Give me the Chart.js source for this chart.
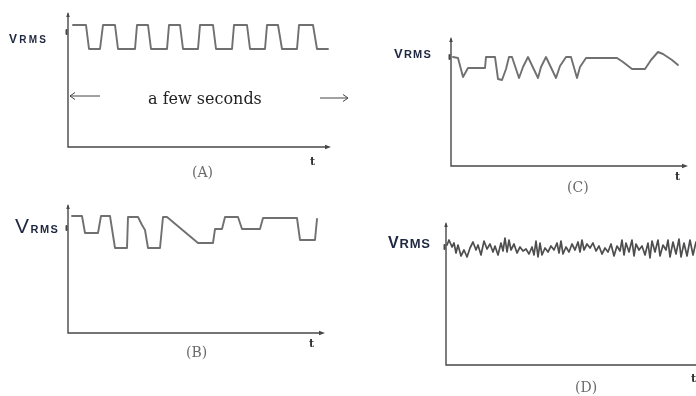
<!DOCTYPE html>
<html>
<head>
<meta charset="utf-8">
<script src="https://cdn.jsdelivr.net/npm/chart.js@4/dist/chart.umd.min.js"></script>
<style>
  html, body { margin: 0; padding: 0; background: #fff; }
  body { width: 696px; height: 396px; position: relative; overflow: hidden; }
  canvas { position: absolute; left: 0; top: 0; }
  .txt { position: absolute; white-space: nowrap; line-height: 1; }
  .vrms { font-family: "Liberation Sans", Arial, sans-serif; font-weight: bold; color: #1e2740; }
  .serif { font-family: "DejaVu Serif", "Liberation Serif", serif; }
  .cap { color: #6a6a6a; font-size: 14px; }
  .t { color: #333; font-size: 11px; font-weight: bold; }
</style>
</head>
<body>
<canvas id="pA" width="696" height="396"></canvas>
<canvas id="pB" width="696" height="396"></canvas>
<canvas id="pC" width="696" height="396"></canvas>
<canvas id="pD" width="696" height="396"></canvas>

<!-- panel labels -->
<div class="txt vrms" style="left:9px;top:30px;letter-spacing:2.2px"><span style="font-size:12px">V</span><span style="font-size:10px">RMS</span></div>
<div class="txt serif" style="left:148px;top:91px;font-size:16px;color:#222">a few seconds</div>
<div class="txt serif cap" style="left:192px;top:165px">(A)</div>
<div class="txt serif t" style="left:310px;top:156px">t</div>

<div class="txt vrms" style="left:15px;top:215px;letter-spacing:1.5px"><span style="font-size:21px;font-weight:normal">V</span><span style="font-size:11px">RMS</span></div>
<div class="txt serif cap" style="left:186px;top:345px">(B)</div>
<div class="txt serif t" style="left:309px;top:338px">t</div>

<div class="txt vrms" style="left:394px;top:45px;letter-spacing:1.2px"><span style="font-size:13px">V</span><span style="font-size:11px">RMS</span></div>
<div class="txt serif cap" style="left:567px;top:180px">(C)</div>
<div class="txt serif t" style="left:675px;top:171px">t</div>

<div class="txt vrms" style="left:388px;top:235px;letter-spacing:0.8px"><span style="font-size:16px">V</span><span style="font-size:13px">RMS</span></div>
<div class="txt serif cap" style="left:575px;top:380px">(D)</div>
<div class="txt serif t" style="left:691px;top:373px">t</div>

<script>
// ---- Waveform samples: time offset along the t axis, RMS level above the axis ----
// (A) regular switching between two levels
const tA = [5, 18, 21, 32, 35, 47, 50, 67, 69, 80, 83, 99, 101, 112, 115, 130, 132, 145, 148, 164, 166, 179, 182, 197, 199, 210, 214, 229, 231, 245, 249, 260];
const vA = [122, 122, 98, 98, 122, 122, 98, 98, 122, 122, 98, 98, 122, 122, 98, 98, 122, 122, 98, 98, 122, 122, 98, 98, 122, 122, 98, 98, 122, 122, 98, 98];

// (B) irregular steps of varying depth
const tB = [4, 14, 17, 30, 33, 42, 47, 59, 60, 70, 74, 77, 80, 92, 95, 99, 130, 145, 147, 154, 157, 170, 174, 192, 195, 229, 232, 247, 249];
const vB = [117, 117, 100, 100, 117, 117, 85, 85, 116, 116, 108, 103, 85, 85, 116, 116, 90, 90, 104, 104, 116, 116, 104, 104, 115, 115, 93, 93, 114];

// (C) sag-and-recover ripples, then slow drift
const tC = [2, 7, 12, 17, 34, 35, 44, 47, 51, 55, 58, 61, 68, 72, 77, 87, 90, 95, 105, 109, 115, 120, 126, 129, 135, 166, 172, 181, 194, 200, 207, 212, 221, 227];
const vC = [109, 108, 89, 98, 98, 109, 109, 87, 86, 97, 109, 109, 88, 99, 109, 88, 99, 109, 88, 100, 109, 109, 88, 99, 108, 108, 104, 97, 97, 106, 114, 112, 106, 101];

// (D) continuous random-looking flicker
const tD = [1, 3, 6, 8, 10, 12, 15, 18, 21, 24, 27, 30, 32, 35, 38, 41, 44, 47, 49, 52, 55, 57, 59, 61, 63, 65, 68, 71, 74, 77, 80, 83, 86, 88, 90, 92, 94, 96, 99, 102, 105, 108, 111, 113, 115, 117, 120, 123, 126, 129, 132, 134, 136, 138, 141, 144, 147, 150, 153, 156, 159, 162, 165, 168, 171, 174, 176, 178, 180, 183, 186, 188, 190, 193, 196, 199, 202, 204, 206, 209, 212, 214, 217, 220, 222, 224, 227, 230, 233, 235, 238, 241, 244, 247, 250];
const vD = [120, 125, 118, 122, 112, 120, 109, 115, 108, 117, 123, 115, 120, 110, 124, 116, 121, 113, 119, 110, 122, 114, 127, 113, 125, 115, 121, 112, 118, 114, 116, 111, 118, 110, 124, 108, 122, 110, 117, 113, 119, 115, 122, 112, 124, 111, 118, 113, 121, 115, 123, 113, 125, 115, 121, 117, 122, 114, 119, 111, 117, 113, 121, 109, 119, 114, 125, 110, 122, 113, 125, 109, 121, 115, 119, 110, 122, 107, 124, 113, 125, 109, 120, 115, 125, 108, 123, 111, 126, 108, 122, 109, 125, 110, 123];

// ---- drawing ----
const W = 696, H = 396;

// hand-drawn style axes with arrow tips and a small reference tick on the level axis
const sketchAxes = {
  id: 'sketchAxes',
  afterDatasetsDraw(chart, args, opts) {
    const { ctx } = chart;
    const xs = chart.scales.x, ys = chart.scales.y;
    const x0 = xs.getPixelForValue(0), y0 = ys.getPixelForValue(0);
    const x1 = xs.getPixelForValue(xs.max) + (opts.xOver || 0);
    const y1 = ys.getPixelForValue(ys.max);
    ctx.save();
    ctx.strokeStyle = opts.color;
    ctx.fillStyle = opts.color;
    ctx.lineWidth = 1.4;
    ctx.lineCap = 'round';
    ctx.beginPath();
    ctx.moveTo(x0, y1 + 1);
    ctx.lineTo(x0, y0);
    ctx.lineTo(x1, y0);
    ctx.stroke();
    // arrow tips
    ctx.beginPath();
    ctx.moveTo(x1 + 3, y0);
    ctx.lineTo(x1 - 3, y0 - 2.2);
    ctx.lineTo(x1 - 3, y0 + 2.2);
    ctx.closePath();
    ctx.fill();
    ctx.beginPath();
    ctx.moveTo(x0, y1 - 1);
    ctx.lineTo(x0 - 1.8, y1 + 4);
    ctx.lineTo(x0 + 1.8, y1 + 4);
    ctx.closePath();
    ctx.fill();
    // level tick
    if (opts.tick != null) {
      const yt = ys.getPixelForValue(opts.tick);
      ctx.lineWidth = 2;
      ctx.beginPath();
      ctx.moveTo(x0 - 1.5, yt - 2);
      ctx.lineTo(x0 - 1.5, yt + 2);
      ctx.stroke();
    }
    ctx.restore();
  }
};

// "a few seconds" span arrows in (A)
const spanArrows = {
  id: 'spanArrows',
  afterDraw(chart, args, opts) {
    if (!opts.show) return;
    const { ctx } = chart;
    const xs = chart.scales.x, ys = chart.scales.y;
    ctx.save();
    ctx.strokeStyle = '#444';
    ctx.lineWidth = 1;
    const la = xs.getPixelForValue(opts.left[0]), lb = xs.getPixelForValue(opts.left[1]), ly = ys.getPixelForValue(opts.left[2]);
    const ra = xs.getPixelForValue(opts.right[0]), rb = xs.getPixelForValue(opts.right[1]), ry = ys.getPixelForValue(opts.right[2]);
    ctx.beginPath();
    ctx.moveTo(lb, ly); ctx.lineTo(la, ly);
    ctx.moveTo(la + 5, ly - 3.5); ctx.lineTo(la, ly); ctx.lineTo(la + 5, ly + 3.5);
    ctx.moveTo(ra, ry); ctx.lineTo(rb, ry);
    ctx.moveTo(rb - 5, ry - 3.5); ctx.lineTo(rb, ry); ctx.lineTo(rb - 5, ry + 3.5);
    ctx.stroke();
    ctx.restore();
  }
};

function makePanel(id, t, v, cfg) {
  const pts = t.map((x, i) => ({ x, y: v[i] }));
  return new Chart(document.getElementById(id), {
    type: 'line',
    data: {
      datasets: [{
        data: pts,
        borderColor: cfg.line,
        borderWidth: cfg.lw,
        pointRadius: 0,
        tension: 0,
        borderJoinStyle: 'round',
        borderCapStyle: 'round',
        fill: false,
        clip: false
      }]
    },
    options: {
      responsive: false,
      animation: false,
      events: [],
      layout: {
        padding: {
          left: cfg.ox,
          top: cfg.oy - cfg.ymax,
          right: W - (cfg.ox + cfg.xmax),
          bottom: H - cfg.oy
        }
      },
      plugins: {
        legend: { display: false },
        tooltip: { enabled: false },
        sketchAxes: { color: '#484848', tick: cfg.tick, xOver: cfg.xOver || 0 },
        spanArrows: cfg.span || { show: false }
      },
      scales: {
        x: { type: 'linear', display: false, min: 0, max: cfg.xmax },
        y: { type: 'linear', display: false, min: 0, max: cfg.ymax }
      }
    },
    plugins: [sketchAxes, spanArrows]
  });
}

makePanel('pA', tA, vA, {
  ox: 68, oy: 147, xmax: 260, ymax: 134, tick: 115, line: '#707070', lw: 1.9,
  span: { show: true, left: [2, 32, 51], right: [252, 280, 49] }
});
makePanel('pB', tB, vB, { ox: 68, oy: 333, xmax: 254, ymax: 128, tick: 105, line: '#707070', lw: 1.9 });
makePanel('pC', tC, vC, { ox: 451, oy: 166, xmax: 234, ymax: 128, tick: 109, line: '#707070', lw: 1.9 });
makePanel('pD', tD, vD, { ox: 446, oy: 365, xmax: 250, ymax: 142, tick: 118, line: '#4e4e4e', lw: 1.7, xOver: 4 });
</script>
</body>
</html>
